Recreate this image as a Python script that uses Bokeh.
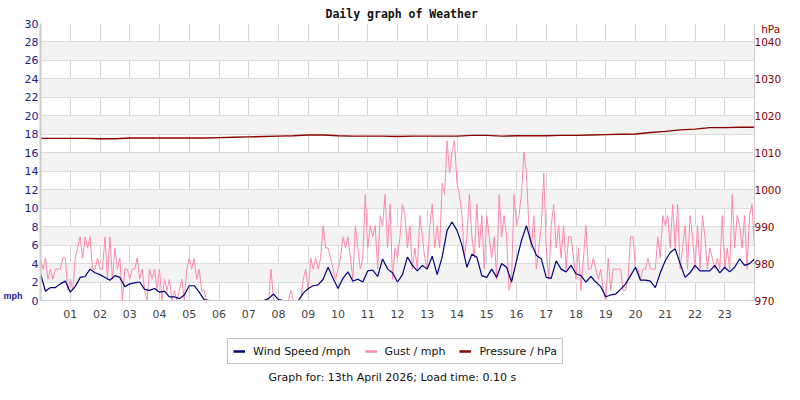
from bokeh.plotting import figure
from bokeh.layouts import column
from bokeh.models import Range1d, LinearAxis, FixedTicker, Legend, LegendItem, Title, Label
from bokeh.embed import file_html
from bokeh.resources import INLINE

# wind speed, one reading every 10 minutes from 00:00 to 24:00 (mph)
wind_mph = [
    2.9, 1.0, 1.4, 1.4, 1.8, 2.1, 0.9, 1.5, 2.5, 2.6, 3.4, 3.0,
    2.8, 2.5, 2.2, 2.7, 2.5, 1.5, 1.8, 1.9, 2.0, 1.2, 1.1, 1.3,
    0.9, 1.0, 0.4, 0.4, 0.2, 0.6, 1.6, 1.6, 0.9, 0.1, 0, 0,
    0, 0, 0, 0, 0, 0, 0, 0, 0, 0, 0.2, 0.7,
    0.1, 0, 0, 0, 0, 0.8, 1.3, 1.6, 1.7, 2.3, 3.6, 2.4,
    1.3, 2.4, 3.1, 2.1, 2.3, 2.0, 3.2, 3.3, 2.6, 4.5, 3.4, 3.0,
    2.0, 2.8, 4.7, 3.8, 3.2, 3.8, 3.4, 4.8, 2.8, 4.7, 7.6, 8.5,
    7.6, 6.0, 3.6, 5.0, 4.7, 2.7, 2.5, 3.4, 2.5, 4.0, 3.6, 2.0,
    4.3, 6.5, 8.1, 6.2, 4.9, 4.5, 2.5, 2.4, 4.3, 3.4, 3.1, 3.8,
    2.9, 2.7, 2.0, 2.6, 2.0, 1.5, 0.4, 0.6, 0.7, 1.2, 1.8, 2.7,
    3.6, 2.2, 2.2, 2.1, 1.4, 3.0, 4.3, 5.2, 5.6, 4.0, 2.5, 3.0,
    3.8, 3.2, 3.2, 3.2, 3.8, 3.0, 3.6, 3.1, 3.6, 4.5, 3.8, 4.0,
    4.5,
]

# gust, one reading every 5 minutes (mph)
gust_mph = [
    4.6, 3.4, 4.6, 2.3, 3.4, 2.3, 3.4, 3.4, 3.4, 4.6, 4.6, 1.1,
    2.3, 1.1, 4.6, 5.7, 6.9, 4.6, 6.9, 5.7, 6.9, 3.4, 3.4, 4.6,
    3.4, 3.4, 6.9, 2.3, 6.9, 2.3, 5.7, 3.4, 4.6, 0, 3.4, 3.4,
    2.3, 3.4, 3.4, 4.6, 2.3, 3.4, 1.1, 0, 3.4, 2.3, 3.4, 1.1,
    3.4, 0, 2.3, 1.1, 2.3, 0, 1.1, 0, 1.1, 2.3, 0, 3.4,
    4.6, 3.4, 4.6, 2.3, 3.4, 1.1, 1.1, 0, 0, 0, 0, 0,
    0, 0, 0, 0, 0, 0, 0, 0, 0, 0, 0, 0,
    0, 0, 0, 0, 0, 0, 0, 0, 0, 3.4, 0, 0,
    0, 0, 0, 0, 0, 1.1, 0, 0, 0, 0, 2.3, 3.4,
    1.1, 4.6, 3.4, 4.6, 3.4, 4.6, 8.1, 5.7, 5.7, 4.6, 3.4, 2.3,
    3.4, 4.6, 6.9, 5.7, 6.9, 4.6, 2.3, 8.1, 5.7, 3.4, 4.6, 11.5,
    5.7, 8.1, 6.9, 8.1, 3.4, 9.2, 8.1, 11.5, 5.7, 10.4, 2.3, 5.7,
    4.6, 6.9, 10.4, 9.2, 5.7, 8.1, 3.4, 5.7, 3.4, 9.2, 6.9, 4.6,
    3.4, 8.1, 10.4, 5.7, 8.1, 5.7, 12.7, 11.5, 17.3, 13.8, 16.1, 17.3,
    12.7, 11.5, 9.2, 4.6, 6.9, 11.5, 6.9, 4.6, 10.4, 5.7, 9.2, 3.4,
    9.2, 6.9, 4.6, 6.9, 2.3, 11.5, 6.9, 9.2, 6.9, 1.1, 2.3, 11.5,
    8.1, 9.2, 11.5, 16.1, 13.8, 8.1, 5.7, 9.2, 3.4, 5.7, 8.1, 13.8,
    5.7, 2.3, 8.1, 10.4, 5.7, 8.1, 4.6, 8.1, 3.4, 6.9, 6.9, 4.6,
    2.3, 5.7, 1.1, 4.6, 8.1, 3.4, 3.4, 4.6, 3.4, 2.3, 3.4, 1.1,
    0, 4.6, 1.1, 3.4, 3.4, 3.4, 3.4, 1.1, 1.1, 2.3, 6.9, 6.9,
    3.4, 3.4, 2.3, 3.4, 3.4, 4.6, 3.4, 3.4, 3.4, 6.9, 4.6, 9.2,
    8.1, 9.2, 5.7, 10.4, 5.7, 10.4, 3.4, 5.7, 8.1, 3.4, 9.2, 6.9,
    3.4, 8.1, 3.4, 9.2, 6.9, 3.4, 5.7, 4.6, 3.4, 4.6, 3.4, 9.2,
    3.4, 5.7, 3.4, 11.5, 5.7, 9.2, 8.1, 5.7, 9.2, 3.4, 9.2, 10.4,
    5.7,
]

# pressure, one reading every 30 minutes (hPa)
pressure_hpa = [
    1013.9, 1013.9, 1013.9, 1013.9, 1013.8, 1013.8, 1014.0, 1014.0,
    1014.0, 1014.0, 1014.0, 1014.0, 1014.1, 1014.2, 1014.3, 1014.4,
    1014.5, 1014.6, 1014.8, 1014.8, 1014.6, 1014.5, 1014.5, 1014.5,
    1014.4, 1014.5, 1014.5, 1014.5, 1014.5, 1014.7, 1014.7, 1014.5,
    1014.6, 1014.6, 1014.6, 1014.7, 1014.7, 1014.8, 1014.9, 1015.0,
    1015.1, 1015.5, 1015.8, 1016.2, 1016.4, 1016.8, 1016.8, 1016.9,
    1016.9,
]

hour_labels = ["01", "02", "03", "04", "05", "06", "07", "08", "09", "10", "11", "12",
               "13", "14", "15", "16", "17", "18", "19", "20", "21", "22", "23"]
mph_ticks = list(range(0, 31, 2))
hpa_ticks = list(range(970, 1041, 10))

wind_hours = [i / 6 for i in range(len(wind_mph))]
gust_hours = [i / 12 for i in range(len(gust_mph))]
pressure_hours = [i / 2 for i in range(len(pressure_hpa))]

WIND, GUST, PRES = "#000080", "#ff88aa", "#8b0000"

p = figure(width=784, height=330, x_range=Range1d(0, 24), y_range=Range1d(0, 30),
           output_backend="svg", toolbar_location=None)
p.min_border_left = 40
p.min_border_right = 30
p.min_border_top = 23
p.min_border_bottom = 30
p.outline_line_color = None
p.extra_y_ranges = {"hpa": Range1d(970, 1045)}

p.title = Title(text="Daily graph of Weather", align="left", offset=285,
                standoff=6, text_font="DejaVu Sans Mono", text_font_style="bold",
                text_font_size="11.5px", text_color="#111111")

# grid: a line every hour, a line every 2 mph, grey bands
p.xgrid.ticker = FixedTicker(ticks=list(range(0, 25)))
p.xgrid.grid_line_color = "#d4d4d4"
p.ygrid.ticker = FixedTicker(ticks=mph_ticks)
p.ygrid.grid_line_color = "#dcdcdc"
p.ygrid.band_fill_color = "#f3f3f3"
p.ygrid.band_fill_alpha = 1


def plain(axis, standoff, color, size):
    axis.major_tick_out = 0
    axis.minor_tick_out = 0
    axis.major_tick_line_color = None
    axis.minor_tick_line_color = None
    axis.major_label_standoff = standoff
    axis.major_label_text_color = color
    axis.major_label_text_font = "DejaVu Sans"
    axis.major_label_text_font_size = size


# hour axis
xaxis = p.below[0]
xaxis.ticker = FixedTicker(ticks=list(range(1, 24)))
xaxis.major_label_overrides = {i + 1: lab for i, lab in enumerate(hour_labels)}
xaxis.axis_line_color = "#cccccc"
plain(xaxis, 9, "#444444", "11px")

# mph axis
yaxis = p.left[0]
yaxis.ticker = FixedTicker(ticks=mph_ticks)
yaxis.axis_line_color = "#cccccc"
yaxis.axis_line_width = 2
plain(yaxis, 2, "#1a1a8c", "11px")

# unit name to the left of the zero
unit_axis = LinearAxis(ticker=FixedTicker(ticks=[0.5]),
                       major_label_overrides={0.5: "mph"})
unit_axis.axis_line_color = None
plain(unit_axis, -1, "#1a1a8c", "9px")
unit_axis.major_label_text_font = "Liberation Sans"
unit_axis.major_label_text_font_style = "bold"
p.add_layout(unit_axis, "left")

# hPa axis, with its unit as a label above 1040
hpa_axis = LinearAxis(y_range_name="hpa", ticker=FixedTicker(ticks=hpa_ticks + [1043.4]),
                      major_label_overrides={1043.4: "\u00a0\u00a0hPa"})
hpa_axis.axis_line_color = "#cccccc"
plain(hpa_axis, 0, PRES, "10.5px")
p.add_layout(hpa_axis, "right")

p.line(gust_hours, gust_mph, line_color=GUST, line_width=1)
p.line(wind_hours, wind_mph, line_color=WIND, line_width=1.2)
p.line(pressure_hours, pressure_hpa, y_range_name="hpa", line_color=PRES, line_width=1.4)

# strip under the chart: legend and footer, x in page pixels, y from the strip top
foot = figure(width=784, height=54, x_range=Range1d(40, 754), y_range=Range1d(54, 0),
              x_axis_type=None, y_axis_type=None, title=None,
              output_backend="svg", toolbar_location=None, min_border=0)
foot.outline_line_color = None

# same series again, they fall outside this strip; they only give the legend its keys
wind_key = foot.line(wind_hours, wind_mph, line_color=WIND, line_width=2.5)
gust_key = foot.line(gust_hours, gust_mph, line_color=GUST, line_width=2.5)
pres_key = foot.line(pressure_hours, pressure_hpa, line_color=PRES, line_width=2.5)

legend = Legend(items=[LegendItem(label="Wind Speed /mph", renderers=[wind_key]),
                       LegendItem(label="Gust / mph", renderers=[gust_key]),
                       LegendItem(label="Pressure / hPa", renderers=[pres_key])],
                orientation="horizontal", location=(187, 20), margin=0,
                padding=5, spacing=14, glyph_width=12, glyph_height=14,
                label_height=14, label_standoff=8,
                label_text_font="DejaVu Sans", label_text_font_size="11px",
                label_text_color="#111111",
                border_line_color="#888888", background_fill_alpha=1)
foot.add_layout(legend)

foot.add_layout(Label(x=268, y=47, text="Graph for: 13th April 2026; Load time: 0.10 s",
                      text_baseline="alphabetic", text_font="DejaVu Sans",
                      text_font_size="11px", text_color="#111111"))

page = column(p, foot, spacing=0)
open("out.html", "w").write(file_html(page, INLINE))
